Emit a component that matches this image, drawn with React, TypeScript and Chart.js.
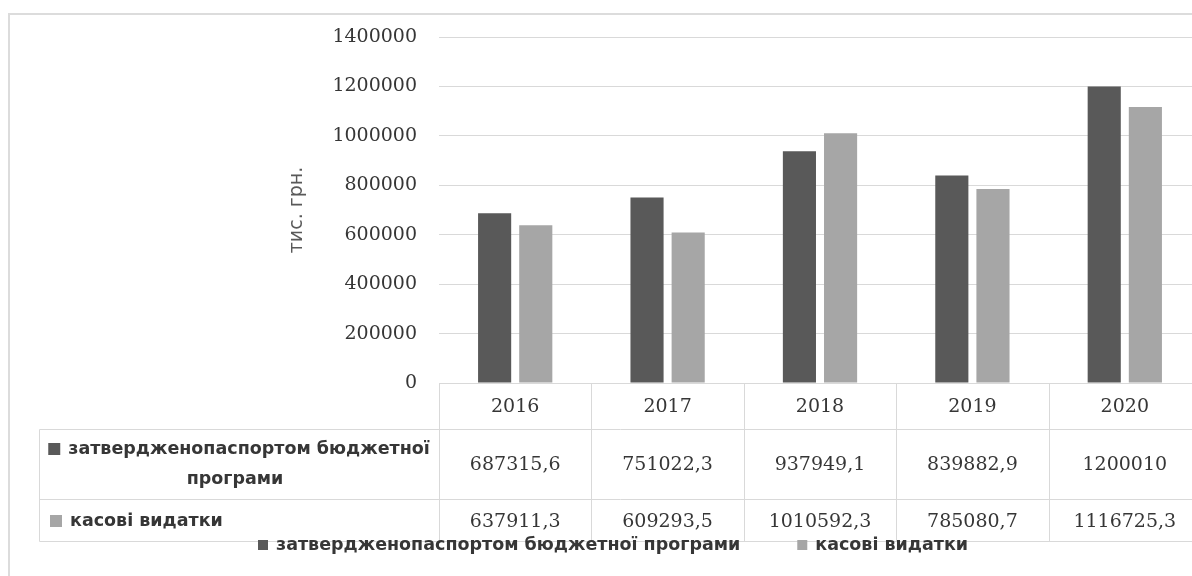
import React, { useEffect, useRef } from "react";
import { Chart, registerables } from "chart.js";

Chart.register(...registerables);

// ---- data ----
const years: string[] = ["2016", "2017", "2018", "2019", "2020"];
const approved: number[] = [687315.6, 751022.3, 937949.1, 839882.9, 1200010];
const cash: number[] = [637911.3, 609293.5, 1010592.3, 785080.7, 1116725.3];
const approvedLabel = "затвердженопаспортом бюджетної програми";
const approvedLabelLines: string[] = ["затвердженопаспортом бюджетної", "програми"];
const cashLabel = "касові видатки";
const yTitle = "тис. грн.";
const yMin = 0;
const yMax = 1400000;
const yStep = 200000;

const darkColor = "#595959";
const lightColor = "#a6a6a6";
const lineColor = "#d9d9d9";
const textColor = "#363636";

const fmt = (v: number) => String(v).replace(".", ",");

const serifFont = "'DejaVu Serif', serif";
const sansFont = "'DejaVu Sans', sans-serif";

const tablePlugin = {
  id: "dataTable",
  beforeDraw(chart: any) {
    const { ctx } = chart;
    ctx.save();
    ctx.strokeStyle = "#dcdcdc";
    ctx.lineWidth = 2;
    ctx.beginPath();
    ctx.moveTo(9, chart.height);
    ctx.lineTo(9, 14);
    ctx.lineTo(chart.width, 14);
    ctx.stroke();
    ctx.restore();
  },
  afterDraw(chart: any) {
    const { ctx, chartArea } = chart;
    const x = chart.scales.x;
    const n = years.length;
    const colW = (x.right - x.left) / n;
    const top = chartArea.bottom;
    const row1 = top + 46;
    const row2 = row1 + 70;
    const bottom = row2 + 42;
    const tableLeft = 39;

    ctx.save();
    ctx.strokeStyle = lineColor;
    ctx.lineWidth = 1;
    const line = (x1: number, y1: number, x2: number, y2: number) => {
      ctx.beginPath();
      ctx.moveTo(Math.round(x1) + 0.5, Math.round(y1) + 0.5);
      ctx.lineTo(Math.round(x2) + 0.5, Math.round(y2) + 0.5);
      ctx.stroke();
    };
    line(tableLeft, row1, x.right, row1);
    line(tableLeft, row2, x.right, row2);
    line(tableLeft, bottom, x.right, bottom);
    line(tableLeft, row1, tableLeft, bottom);
    for (let i = 0; i <= n; i++) {
      const xx = x.left + i * colW;
      line(xx, top, xx, bottom);
    }

    ctx.fillStyle = textColor;
    ctx.textAlign = "center";
    ctx.textBaseline = "middle";
    ctx.font = `19px ${serifFont}`;
    for (let i = 0; i < n; i++) {
      const cx = x.getPixelForValue(i);
      ctx.fillText(years[i], cx, (top + row1) / 2 + 1);
      ctx.fillText(fmt(approved[i]), cx, (row1 + row2) / 2 + 1);
      ctx.fillText(fmt(cash[i]), cx, (row2 + bottom) / 2 + 2);
    }

    // row labels
    ctx.font = `bold 17.5px ${sansFont}`;
    const labelCenter = (tableLeft + x.left) / 2;
    const l1w = ctx.measureText(approvedLabelLines[0]).width;
    const sq = 12;
    const full1 = sq + 8 + l1w;
    const start1 = labelCenter - full1 / 2;
    const y1 = row1 + 20;
    ctx.fillStyle = darkColor;
    ctx.fillRect(start1, y1 - sq / 2, sq, sq);
    ctx.fillStyle = textColor;
    ctx.textAlign = "left";
    ctx.fillText(approvedLabelLines[0], start1 + sq + 8, y1);
    ctx.textAlign = "center";
    ctx.fillText(approvedLabelLines[1], labelCenter - 4, row1 + 50);

    const y2 = (row2 + bottom) / 2 + 1;
    ctx.fillStyle = lightColor;
    ctx.fillRect(50, y2 - sq / 2, sq, sq);
    ctx.fillStyle = textColor;
    ctx.textAlign = "left";
    ctx.fillText(cashLabel, 70, y2);

    // legend
    const ly = 545;
    const lsq = 10;
    let lx = 258;
    ctx.fillStyle = darkColor;
    ctx.fillRect(lx, ly - lsq / 2, lsq, lsq);
    ctx.fillStyle = textColor;
    ctx.fillText(approvedLabel, lx + lsq + 8, ly);
    lx = lx + lsq + 8 + ctx.measureText(approvedLabel).width + 57;
    ctx.fillStyle = lightColor;
    ctx.fillRect(lx, ly - lsq / 2, lsq, lsq);
    ctx.fillStyle = textColor;
    ctx.fillText(cashLabel, lx + lsq + 8, ly);

    ctx.restore();
  },
};

export default function App() {
  const ref = useRef<HTMLCanvasElement | null>(null);

  useEffect(() => {
    if (!ref.current) return;
    const chart = new Chart(ref.current, {
      type: "bar",
      data: {
        labels: years,
        datasets: [
          {
            label: approvedLabel,
            data: approved,
            backgroundColor: darkColor,
            categoryPercentage: 0.54,
            barPercentage: 0.805,
          },
          {
            label: cashLabel,
            data: cash,
            backgroundColor: lightColor,
            categoryPercentage: 0.54,
            barPercentage: 0.805,
          },
        ],
      },
      options: {
        responsive: false,
        animation: false,
        layout: { padding: { left: 8, right: 9, top: 37, bottom: 0 } },
        plugins: { legend: { display: false }, tooltip: { enabled: false } },
        scales: {
          x: {
            grid: { display: false },
            border: { display: true, color: lineColor },
            ticks: { display: false },
            afterFit: (s: any) => {
              s.height = 193;
            },
          },
          y: {
            min: yMin,
            max: yMax,
            ticks: {
              stepSize: yStep,
              padding: 22,
              color: textColor,
              font: { family: serifFont, size: 19 },
              callback: (v: any) => String(v),
            },
            grid: { color: lineColor, drawTicks: false },
            border: { display: false },
            title: {
              display: true,
              text: yTitle,
              color: "#595959",
              font: { family: sansFont, size: 19 },
              padding: { top: 278, bottom: 0 },
            },
            afterFit: (s: any) => {
              s.width = 431;
            },
          },
        },
      },
      plugins: [tablePlugin],
    });
    return () => chart.destroy();
  }, []);

  return (
    <div
      style={{
        position: "absolute",
        left: 0,
        top: 0,
        width: 1192,
        height: 576,
        overflow: "hidden",
        background: "#fff",
      }}
    >
      <canvas ref={ref} width={1210} height={576} style={{ display: "block" }} />
    </div>
  );
}
